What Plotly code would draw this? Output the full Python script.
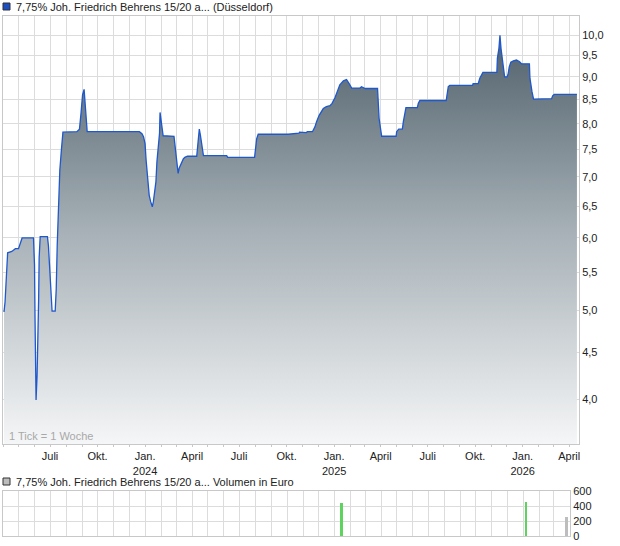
import math
import plotly.graph_objects as go

# ---------------- data ----------------
dates = [
    "2023-04-03", "2023-04-05", "2023-04-07", "2023-04-09", "2023-04-10", "2023-04-18",
    "2023-04-25", "2023-05-01", "2023-05-05", "2023-05-08", "2023-05-30", "2023-06-01",
    "2023-06-02", "2023-06-03", "2023-06-04", "2023-06-06", "2023-06-08", "2023-06-09",
    "2023-06-10", "2023-06-12", "2023-06-26", "2023-06-28", "2023-06-30", "2023-07-02",
    "2023-07-03", "2023-07-05", "2023-07-11", "2023-07-13", "2023-07-15", "2023-07-18",
    "2023-07-20", "2023-07-23", "2023-07-26", "2023-08-22", "2023-08-27", "2023-08-30",
    "2023-09-02", "2023-09-05", "2023-09-06", "2023-09-08", "2023-09-10", "2023-09-11",
    "2023-12-21", "2023-12-26", "2023-12-29", "2024-01-01", "2024-01-03", "2024-01-05",
    "2024-01-07", "2024-01-09", "2024-01-12", "2024-01-15", "2024-01-17", "2024-01-19",
    "2024-01-22", "2024-01-24", "2024-01-27", "2024-01-29", "2024-01-30", "2024-02-01",
    "2024-02-03", "2024-02-05", "2024-02-26", "2024-02-29", "2024-03-02", "2024-03-04",
    "2024-03-05", "2024-03-07", "2024-03-10", "2024-03-12", "2024-03-15", "2024-03-18",
    "2024-03-23", "2024-04-10", "2024-04-13", "2024-04-15", "2024-04-17", "2024-04-20",
    "2024-04-23", "2024-06-07", "2024-06-09", "2024-07-31", "2024-08-02", "2024-08-04",
    "2024-08-07", "2024-10-04", "2024-10-25", "2024-10-26", "2024-11-08", "2024-11-10",
    "2024-11-20", "2024-11-25", "2024-11-28", "2024-12-03", "2024-12-11", "2024-12-17",
    "2024-12-24", "2024-12-28", "2025-01-03", "2025-01-07", "2025-01-12", "2025-01-19",
    "2025-01-25", "2025-01-30", "2025-02-04", "2025-02-20", "2025-02-23", "2025-03-02",
    "2025-03-26", "2025-03-29", "2025-04-02", "2025-04-03", "2025-05-01", "2025-05-02",
    "2025-05-06", "2025-05-13", "2025-05-15", "2025-05-18", "2025-05-20", "2025-06-11",
    "2025-06-13", "2025-06-16", "2025-08-06", "2025-08-07", "2025-08-10", "2025-08-13",
    "2025-09-26", "2025-09-27", "2025-10-07", "2025-10-10", "2025-10-14", "2025-10-16",
    "2025-11-12", "2025-11-13", "2025-11-16", "2025-11-18", "2025-11-20", "2025-11-22",
    "2025-11-25", "2025-11-27", "2025-12-02", "2025-12-04", "2025-12-06", "2025-12-09",
    "2025-12-14", "2025-12-20", "2025-12-26", "2025-12-30", "2026-01-14", "2026-01-15",
    "2026-01-19", "2026-01-22", "2026-02-26", "2026-02-28", "2026-03-03", "2026-04-16",
]
prices = [
    4.98, 5.11, 5.37, 5.64, 5.78, 5.80,
    5.84, 5.84, 5.92, 6.00, 6.00, 5.61,
    4.90, 4.27, 3.99, 4.25, 4.65, 5.15,
    5.71, 6.02, 6.02, 5.88, 5.61, 5.35,
    5.11, 4.99, 4.99, 5.27, 5.90, 6.60,
    7.12, 7.48, 7.83, 7.84, 7.89, 8.21,
    8.60, 8.72, 8.56, 8.24, 7.99, 7.84,
    7.84, 7.80, 7.74, 7.61, 7.30, 7.12,
    6.86, 6.68, 6.57, 6.49, 6.57, 6.71,
    6.91, 7.27, 7.64, 7.81, 8.23, 8.04,
    7.94, 7.76, 7.75, 7.48, 7.30, 7.15,
    7.06, 7.15, 7.22, 7.27, 7.32, 7.35,
    7.37, 7.37, 7.78, 7.89, 7.78, 7.52,
    7.38, 7.38, 7.35, 7.35, 7.61, 7.70,
    7.79, 7.79, 7.81, 7.83, 7.82, 7.84,
    7.84, 7.94, 8.04, 8.17, 8.31, 8.35,
    8.37, 8.42, 8.55, 8.67, 8.82, 8.91,
    8.94, 8.85, 8.75, 8.75, 8.78, 8.74,
    8.74, 8.11, 7.87, 7.75, 7.75, 7.84,
    7.89, 7.89, 8.04, 8.24, 8.33, 8.33,
    8.42, 8.48, 8.48, 8.56, 8.78, 8.81,
    8.81, 8.85, 8.85, 8.97, 9.06, 9.10,
    9.10, 9.43, 9.67, 9.99, 9.67, 9.43,
    9.16, 9.00, 9.00, 9.08, 9.23, 9.34,
    9.37, 9.39, 9.35, 9.30, 9.30, 8.97,
    8.67, 8.51, 8.52, 8.58, 8.61, 8.61,
]

vol_dates = ["2025-01-14", "2026-01-06", "2026-03-25"]
vol_values = [440, 460, 260]
vol_colors = ["#5fd35f", "#5fd35f", "#bdbdbd"]

tick_vals = ["2023-07-01", "2023-10-01", "2024-01-01", "2024-04-01", "2024-07-01", "2024-10-01",
             "2025-01-01", "2025-04-01", "2025-07-01", "2025-10-01", "2026-01-01", "2026-04-01"]
tick_text = ["Juli", "Okt.", "Jan.<br>2024", "April", "Juli", "Okt.",
             "Jan.<br>2025", "April", "Juli", "Okt.", "Jan.<br>2026", "April"]

y_tick_vals = [4.0, 4.5, 5.0, 5.5, 6.0, 6.5, 7.0, 7.5, 8.0, 8.5, 9.0, 9.5, 10.0]
y_tick_text = ["4,0", "4,5", "5,0", "5,5", "6,0", "6,5", "7,0", "7,5", "8,0", "8,5", "9,0", "9,5", "10,0"]
vol_tick_vals = [0, 200, 400, 600]

legend_price = "7,75% Joh. Friedrich Behrens 15/20 a... (Düsseldorf)"
legend_volume = "7,75% Joh. Friedrich Behrens 15/20 a... Volumen in Euro"
tick_note = "1 Tick = 1 Woche"

# ---------------- figure ----------------
FONT = "Liberation Sans, Arial, sans-serif"
GRID = "#dcdcdc"
BORDER = "#c8c8c8"
y_lo, y_hi = 3.572, 10.49

fig = go.Figure()

# baseline for the area fill (below visible range on log axis)
fig.add_trace(go.Scatter(
    x=[dates[0], dates[-1]], y=[3.0, 3.0], mode="lines",
    line=dict(width=0, color="rgba(0,0,0,0)"), hoverinfo="skip", showlegend=False,
    xaxis="x", yaxis="y"))

fig.add_trace(go.Scatter(
    x=dates, y=prices, mode="lines",
    line=dict(color="#1f58cc", width=1.3),
    fill="tonexty",
    fillgradient=dict(type="vertical",
                      colorscale=[[0, "#f5f6f7"], [0.5, "#a6b0b6"], [1, "#485964"]],
                      start=y_lo, stop=y_hi),
    showlegend=False, xaxis="x", yaxis="y"))

fig.add_trace(go.Bar(
    x=vol_dates, y=vol_values, marker=dict(color=vol_colors, line=dict(width=0)),
    width=[3.9e8] * len(vol_dates), showlegend=False, xaxis="x2", yaxis="y2"))

# layout geometry (pixels -> paper)
W, H = 620, 546
ml, mr, mt, mb = 3, 41, 16, 10
pw, ph = W - ml - mr, H - mt - mb


def px(x):
    return (x - ml) / pw


def py(y):
    return (H - mb - y) / ph


fig.update_layout(
    width=W, height=H,
    margin=dict(l=ml, r=mr, t=mt, b=mb, pad=0, autoexpand=False),
    paper_bgcolor="white", plot_bgcolor="white",
    separators=",.",
    hovermode=False,
    font=dict(family=FONT, size=11, color="#222222"),
    bargap=0,
    xaxis=dict(
        domain=[0, 1], anchor="y", type="date", automargin=False,
        range=["2023-04-01", "2026-04-20"],
        tickmode="array", tickvals=tick_vals, ticktext=tick_text,
        showgrid=True, gridcolor=GRID, gridwidth=1,
        ticks="outside", ticklen=2, tickcolor=BORDER,
        minor=dict(tick0="2023-04-01", dtick="M1", showgrid=True, gridcolor=GRID,
                   ticks="outside", ticklen=2, tickcolor=BORDER),
        showline=True, linecolor=BORDER, mirror=True,
        tickfont=dict(size=11, color="#222222"), zeroline=False,
    ),
    yaxis=dict(
        domain=[py(444), 1], anchor="x", type="log", side="right", automargin=False,
        range=[math.log10(y_lo), math.log10(y_hi)],
        tickmode="array", tickvals=y_tick_vals, ticktext=y_tick_text,
        showgrid=True, gridcolor=GRID, gridwidth=1,
        showline=True, linecolor=BORDER, mirror=True,
        ticks="", tickfont=dict(size=11, color="#222222"), zeroline=False,
    ),
    xaxis2=dict(
        domain=[0, px(570)], anchor="y2", type="date", automargin=False,
        range=["2023-04-01", "2026-04-01"],
        tickmode="array", tickvals=tick_vals, showticklabels=False,
        showgrid=True, gridcolor=GRID, ticks="",
        minor=dict(tick0="2023-04-01", dtick="M1", showgrid=True, gridcolor=GRID),
        showline=True, linecolor=BORDER, mirror=True, zeroline=False,
    ),
    yaxis2=dict(
        domain=[0, py(491)], anchor="x2", side="right", range=[0, 600], automargin=False,
        tickmode="array", tickvals=vol_tick_vals,
        showgrid=True, gridcolor=GRID,
        showline=True, linecolor=BORDER, mirror=True,
        ticks="", tickfont=dict(size=11, color="#222222"), zeroline=False,
    ),
    shapes=[
        dict(type="rect", xref="paper", yref="paper",
             x0=px(3), x1=px(10), y0=py(10), y1=py(3),
             fillcolor="#1d4fc4", line=dict(color="#333333", width=1)),
        dict(type="rect", xref="paper", yref="paper",
             x0=px(3), x1=px(10), y0=py(485), y1=py(478),
             fillcolor="#bdbdbd", line=dict(color="#333333", width=1)),
    ],
    annotations=[
        dict(text=legend_price, xref="paper", yref="paper", x=px(14), y=py(7),
             xanchor="left", yanchor="middle", showarrow=False,
             font=dict(size=11, color="#222222", family=FONT)),
        dict(text=legend_volume, xref="paper", yref="paper", x=px(14), y=py(481.5),
             xanchor="left", yanchor="middle", showarrow=False,
             font=dict(size=11, color="#222222", family=FONT)),
        dict(text=tick_note, xref="paper", yref="paper", x=px(7), y=py(435.5),
             xanchor="left", yanchor="middle", showarrow=False,
             font=dict(size=11, color="#a8a8a8", family=FONT)),
    ],
)

fig.write_html("out.html",
               config={"displayModeBar": False, "staticPlot": True},
               post_script="document.body.style.margin='0';document.body.style.padding='0';")
